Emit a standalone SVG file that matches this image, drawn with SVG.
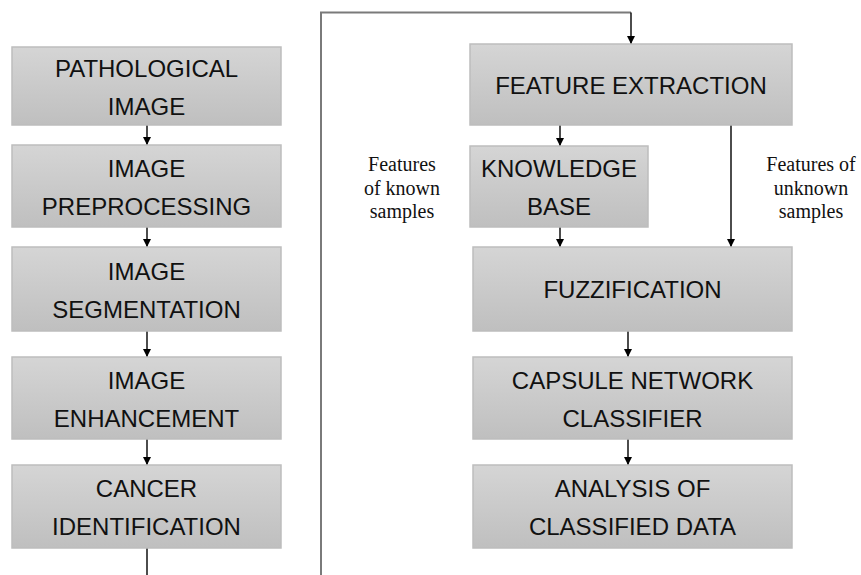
<svg xmlns="http://www.w3.org/2000/svg" width="861" height="575" viewBox="0 0 861 575">
<defs>
<linearGradient id="g" x1="0" y1="0" x2="0" y2="1">
<stop offset="0" stop-color="#d5d5d5"/>
<stop offset="1" stop-color="#bfbfbf"/>
</linearGradient>
<marker id="ah" viewBox="0 0 10 10" refX="10" refY="5" markerWidth="8" markerHeight="8" markerUnits="userSpaceOnUse" orient="auto">
<path d="M0,0 L10,5 L0,10 z" fill="#000"/>
</marker>
</defs>
<style>
.box{fill:url(#g);stroke:#bdbdbd;stroke-width:1.5}
.t{font-family:"Liberation Sans",Arial,sans-serif;font-size:24px;fill:#111;text-anchor:middle}
.lbl{font-family:"Liberation Serif","Times New Roman",serif;font-size:20px;fill:#111;text-anchor:middle}
.c{stroke:#000;stroke-width:1.4;fill:none}
.loop{stroke:#7a7a7a;stroke-width:2;fill:none}
</style>
<rect width="861" height="575" fill="#fff"/>
<g id="connectors">
<line class="c" x1="147" y1="125" x2="147" y2="145" marker-end="url(#ah)"/>
<line class="c" x1="147" y1="227" x2="147" y2="247" marker-end="url(#ah)"/>
<line class="c" x1="147" y1="331" x2="147" y2="357" marker-end="url(#ah)"/>
<line class="c" x1="147" y1="439" x2="147" y2="465" marker-end="url(#ah)"/>
<line class="c" x1="147" y1="548" x2="147" y2="575"/>
<polyline class="loop" points="321,575 321,12.5 631,12.5"/>
<line class="c" x1="631" y1="12.5" x2="631" y2="44" marker-end="url(#ah)"/>
<line class="c" x1="560" y1="125" x2="560" y2="146" marker-end="url(#ah)"/>
<line class="c" x1="731" y1="125" x2="731" y2="247" marker-end="url(#ah)"/>
<line class="c" x1="560" y1="227" x2="560" y2="247" marker-end="url(#ah)"/>
<line class="c" x1="628" y1="331" x2="628" y2="357" marker-end="url(#ah)"/>
<line class="c" x1="628" y1="439" x2="628" y2="465" marker-end="url(#ah)"/>
</g>
<g id="n1"><rect class="box" x="12" y="47" width="269" height="78"/><text class="t" x="146.5" y="76.5">PATHOLOGICAL</text><text class="t" x="146.5" y="114.5">IMAGE</text></g>
<g id="n2"><rect class="box" x="12" y="145" width="269" height="82"/><text class="t" x="146.5" y="176.5">IMAGE</text><text class="t" x="146.5" y="214.5">PREPROCESSING</text></g>
<g id="n3"><rect class="box" x="12" y="247" width="269" height="84"/><text class="t" x="146.5" y="279.5">IMAGE</text><text class="t" x="146.5" y="317.5">SEGMENTATION</text></g>
<g id="n4"><rect class="box" x="12" y="357" width="269" height="82"/><text class="t" x="146.5" y="388.5">IMAGE</text><text class="t" x="146.5" y="426.5">ENHANCEMENT</text></g>
<g id="n5"><rect class="box" x="12" y="465" width="269" height="83"/><text class="t" x="146.5" y="497">CANCER</text><text class="t" x="146.5" y="535">IDENTIFICATION</text></g>
<g id="n6"><rect class="box" x="470" y="44" width="322" height="81"/><text class="t" x="631" y="93.5">FEATURE EXTRACTION</text></g>
<g id="n7"><rect class="box" x="470" y="146" width="178" height="81"/><text class="t" x="559" y="177">KNOWLEDGE</text><text class="t" x="559" y="215">BASE</text></g>
<g id="n8"><rect class="box" x="473" y="247" width="319" height="84"/><text class="t" x="632.5" y="298">FUZZIFICATION</text></g>
<g id="n9"><rect class="box" x="473" y="357" width="319" height="82"/><text class="t" x="632.5" y="388.5">CAPSULE NETWORK</text><text class="t" x="632.5" y="426.5">CLASSIFIER</text></g>
<g id="n10"><rect class="box" x="473" y="465" width="319" height="83"/><text class="t" x="632.5" y="497">ANALYSIS OF</text><text class="t" x="632.5" y="535">CLASSIFIED DATA</text></g>
<g id="labels">
<text class="lbl" x="402" y="171">Features</text>
<text class="lbl" x="402" y="195">of known</text>
<text class="lbl" x="402" y="218">samples</text>
<text class="lbl" x="811" y="171">Features of</text>
<text class="lbl" x="811" y="195">unknown</text>
<text class="lbl" x="811" y="218">samples</text>
</g>
</svg>
